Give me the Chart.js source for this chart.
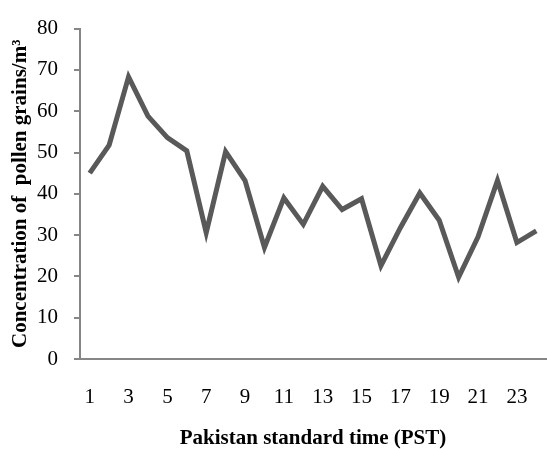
<!DOCTYPE html>
<html>
<head>
<meta charset="utf-8">
<script src="https://cdn.jsdelivr.net/npm/chart.js@4"></script>
<style>
  html, body { margin: 0; padding: 0; background: #fff; }
  #wrap { width: 547px; height: 449px; }
</style>
</head>
<body>
<div id="wrap"><canvas id="pollenChart" width="547" height="449"></canvas></div>
<script>
const hours = ['1', '2', '3', '4', '5', '6', '7', '8', '9', '10', '11', '12',
    '13', '14', '15', '16', '17', '18', '19', '20', '21', '22', '23', '24'];
const concentration = [45.0, 51.8, 68.3, 58.8, 53.6, 50.4, 30.6, 50.2, 43.2, 27.0, 39.0, 32.6,
    41.8, 36.2, 38.8, 22.6, 31.8, 40.2, 33.6, 19.8, 29.6, 43.2, 28.2, 31.0];
const yTicks = [0, 10, 20, 30, 40, 50, 60, 70, 80];

const serif = "'Liberation Serif', 'Times New Roman', serif";
const axisGray = '#868686';

const ctx = document.getElementById('pollenChart').getContext('2d');
new Chart(ctx, {
    type: 'line',
    data: {
        labels: hours,
        datasets: [{
            data: concentration,
            borderColor: '#595959',
            borderWidth: 5,
            pointRadius: 0,
            tension: 0,
            fill: false
        }]
    },
    options: {
        responsive: false,
        animation: false,
        layout: { padding: { top: 26, right: 1, bottom: 0, left: 0 } },
        plugins: {
            legend: { display: false },
            tooltip: { enabled: false }
        },
        scales: {
            x: {
                offset: true,
                grid: { display: false, drawTicks: false },
                border: { display: true, color: axisGray, width: 2 },
                ticks: {
                    autoSkip: false,
                    maxRotation: 0,
                    padding: 26,
                    color: '#000',
                    font: { family: serif, size: 21 },
                    callback: function(value, index) {
                        return index % 2 === 0 ? this.getLabelForValue(value) : '';
                    }
                },
                title: {
                    display: true,
                    text: 'Pakistan standard time (PST)',
                    color: '#000',
                    font: { family: serif, size: 21, weight: 'bold', lineHeight: 1 },
                    padding: { top: 0, bottom: 0 }
                },
                afterFit: (scale) => {
                    scale.height = 90;
                    scale.paddingLeft = 0;
                    scale.paddingRight = 0;
                }
            },
            y: {
                min: 0,
                max: 80,
                afterBuildTicks: (scale) => { scale.ticks = yTicks.map(v => ({ value: v })); },
                grid: { drawOnChartArea: false, drawTicks: true, tickLength: 6, color: axisGray, lineWidth: 2 },
                border: { display: true, color: axisGray, width: 2 },
                ticks: {
                    padding: 16,
                    color: '#000',
                    font: { family: serif, size: 21 }
                },
                title: {
                    display: true,
                    text: 'Concentration of  pollen grains/m³',
                    color: '#000',
                    font: { family: serif, size: 21, weight: 'bold' },
                    padding: { top: 8, bottom: 0 }
                },
                afterFit: (scale) => { scale.width = 80; }
            }
        }
    }
});
</script>
</body>
</html>
